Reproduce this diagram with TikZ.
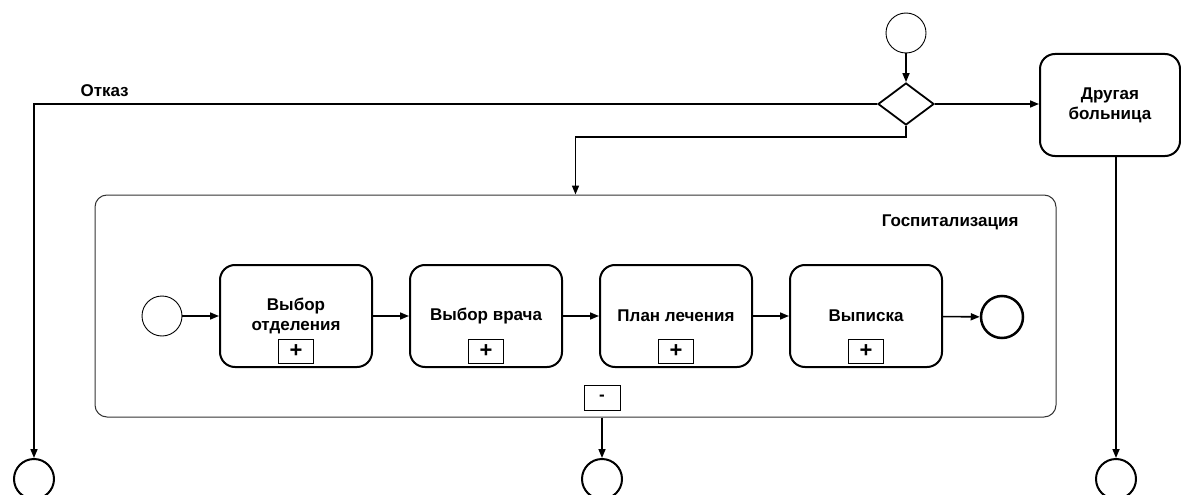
\documentclass[tikz,border=0pt]{standalone}
\usepackage{fontspec}
\setmainfont{Liberation Sans}
\usetikzlibrary{arrows.meta,shapes.geometric}
\begin{document}
\begin{tikzpicture}[x=1pt,y=-1pt,
  font=\fontsize{17}{20}\selectfont\bfseries,
  flow/.style={line width=1.6pt,-{Triangle[length=9pt,width=7pt]}},
  event/.style={circle,draw,line width=0.9pt,minimum size=40pt,inner sep=0pt},
  endevent/.style={circle,draw,line width=2pt,minimum size=40pt,inner sep=0pt},
  task/.style={draw,line width=2pt,rounded corners=15pt,minimum width=152pt,
    minimum height=102pt,align=center,inner sep=0pt},
  marker/.style={draw,line width=0.8pt,minimum width=35pt,minimum height=24pt,
    inner sep=0pt,font=\fontsize{22}{22}\selectfont\bfseries}]
\path[use as bounding box] (0,0) rectangle (1181,495);
\clip (0,0) rectangle (1181,495);

% incoming start and gateway
\node[event] (s0) at (906,33) {};
\node[draw,diamond,line width=1.8pt,minimum width=56pt,minimum height=42pt,
  inner sep=0pt] (gw) at (906,104) {};
\node[task,minimum width=140pt] (other) at (1110,105) {Другая\\больница};
\node[anchor=base west] (otkaz) at (77,96) {Отказ};

% collapsed-view subprocess
\node[draw=black!80,line width=1pt,rounded corners=12pt,minimum width=961pt,
  minimum height=222pt] (sub) at (575.5,306) {};
\node[anchor=east] (sublbl) at (1022,222) {Госпитализация};

\node[event] (s1) at (162,316) {};
\node[task] (t1) at (296,316) {Выбор\\отделения};
\node[task] (t2) at (486,316) {Выбор врача};
\node[task] (t3) at (676,316) {План лечения};
\node[task] (t4) at (866,316) {Выписка};
\node[endevent,line width=2.5pt,minimum size=42pt] (e0) at (1002,317) {};

\node[marker] (m1) at (296,351) {+};
\node[marker] (m2) at (486,351) {+};
\node[marker] (m3) at (676,351) {+};
\node[marker] (m4) at (866,351) {+};
\node[marker,minimum width=36pt,minimum height=25pt,
  font=\fontsize{17}{17}\selectfont\bfseries] (mm) at (602,398) {-};

% outcome events
\node[endevent] (e1) at (34,479) {};
\node[endevent] (e2) at (602,479) {};
\node[endevent] (e3) at (1116,479) {};

% sequence flows
\draw[flow] (s0) -- (gw);
\draw[flow] (gw) -- (other.west |- gw);
\draw[flow] (gw.west) -| (e1);
\draw[flow] (gw.south) -- ++(0,11) -| (sub.north);
\draw[flow] (other.south -| e3) -- (e3);
\draw[flow] (mm |- sub.south) -- (e2);

\draw[flow] (s1) -- (t1);
\draw[flow] (t1) -- (t2);
\draw[flow] (t2) -- (t3);
\draw[flow] (t3) -- (t4);
\draw[flow] (t4) -- (e0);
\end{tikzpicture}
\end{document}
